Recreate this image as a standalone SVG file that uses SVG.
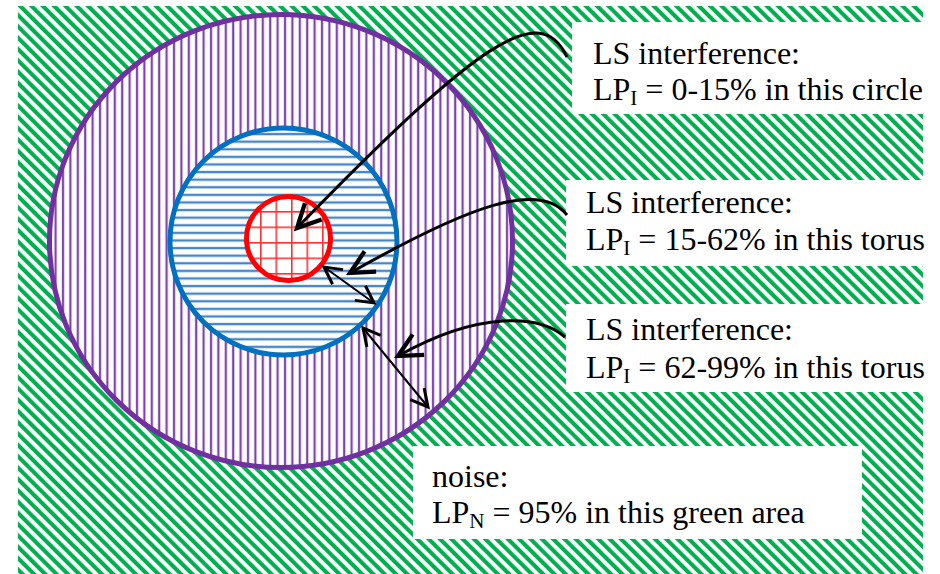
<svg xmlns="http://www.w3.org/2000/svg" width="940" height="574" viewBox="0 0 940 574">
  <style>
    .lbl { font-family: "Liberation Serif", "Times New Roman", serif; font-size: 32px; fill: #000; }
    .sub { font-size: 21px; }
    .box { fill: #fff; stroke: none; }
    .curve { fill: none; stroke: #000; stroke-width: 3; }
    .dbl { fill: none; stroke: #000; stroke-width: 2; }
  </style>
  <defs>
    <pattern id="pg" width="8" height="8" patternUnits="userSpaceOnUse" patternTransform="rotate(-45)">
      <rect width="8" height="8" fill="#fff"/>
      <rect width="4.1" height="8" fill="#00B050"/>
    </pattern>
    <pattern id="pp" width="7.4" height="10" patternUnits="userSpaceOnUse">
      <rect width="7.4" height="10" fill="#fff"/>
      <rect x="2.6" width="2.4" height="10" fill="#9a6cc4"/>
      <rect x="3.2" width="1.2" height="10" fill="#7030A0"/>
    </pattern>
    <pattern id="pb" width="10" height="7.6" patternUnits="userSpaceOnUse" y="1">
      <rect width="10" height="7.6" fill="#fff"/>
      <rect y="2.6" width="10" height="2.6" fill="#7fb0e0"/>
      <rect y="3.2" width="10" height="1.3" fill="#2E75B6"/>
    </pattern>
    <pattern id="pr" x="260" y="211" width="15.5" height="15.5" patternUnits="userSpaceOnUse">
      <rect width="15.5" height="15.5" fill="#fff"/>
      <rect width="1.6" height="15.5" fill="#ff3030"/>
      <rect width="15.5" height="1.6" fill="#ff3030"/>
    </pattern>
    <marker id="ah" markerUnits="userSpaceOnUse" markerWidth="34" markerHeight="34" viewBox="-28 -16 32 32" refX="0" refY="0" orient="auto-start-reverse">
      <path d="M-22,-11 L0,0 L-22,11" fill="none" stroke="#000" stroke-width="4" stroke-linejoin="miter"/>
    </marker>
    <marker id="ahs" markerUnits="userSpaceOnUse" markerWidth="28" markerHeight="28" viewBox="-24 -14 28 28" refX="0" refY="0" orient="auto-start-reverse">
      <path d="M-17,-9 L0,0 L-17,9" fill="none" stroke="#000" stroke-width="3" stroke-linejoin="miter"/>
    </marker>
  </defs>

  <rect width="940" height="574" fill="#fff"/>

  <g id="green-area">
    <rect x="18" y="6" width="905" height="568" fill="url(#pg)"/>
  </g>

  <g id="ring-purple">
    <ellipse cx="281" cy="241" rx="231.5" ry="226.5" fill="url(#pp)" stroke="#7030A0" stroke-width="5"/>
  </g>

  <g id="ring-blue">
    <circle cx="283.5" cy="241.5" r="113.5" fill="url(#pb)" stroke="#0070C0" stroke-width="5"/>
  </g>

  <g id="circle-red">
    <circle cx="288.5" cy="238.5" r="42" fill="url(#pr)" stroke="#FF0000" stroke-width="5"/>
  </g>

  <g id="label-circle">
    <rect class="box" x="572" y="22" width="351" height="92"/>
    <text class="lbl" x="593" y="64">LS interference:</text>
    <text class="lbl" x="593" y="100">LP<tspan class="sub" dy="5">I</tspan><tspan dy="-5"> = 0-15% in this circle</tspan></text>
  </g>

  <g id="label-torus-inner">
    <rect class="box" x="566" y="180" width="357" height="86"/>
    <text class="lbl" x="586" y="213">LS interference:</text>
    <text class="lbl" x="586" y="250">LP<tspan class="sub" dy="5">I</tspan><tspan dy="-5"> = 15-62% in this torus</tspan></text>
  </g>

  <g id="label-torus-outer">
    <rect class="box" x="566" y="304" width="357" height="88"/>
    <text class="lbl" x="586" y="340">LS interference:</text>
    <text class="lbl" x="586" y="378">LP<tspan class="sub" dy="5">I</tspan><tspan dy="-5"> = 62-99% in this torus</tspan></text>
  </g>

  <g id="label-noise">
    <rect class="box" x="413" y="446" width="449" height="93"/>
    <text class="lbl" x="432" y="487">noise:</text>
    <text class="lbl" x="432" y="523">LP<tspan class="sub" dy="5">N</tspan><tspan dy="-5"> = 95% in this green area</tspan></text>
  </g>

  <g id="connectors">
    <path class="curve" d="M567,57 C540,0 480,40 297,228" marker-end="url(#ah)"/>
    <path class="curve" d="M567,215 C540,180 470,205 350,273" marker-end="url(#ah)"/>
    <path class="curve" d="M565,337 C540,315 480,310 398,356" marker-end="url(#ah)"/>
    <line class="dbl" x1="324" y1="267" x2="374" y2="303" marker-start="url(#ahs)" marker-end="url(#ahs)"/>
    <line class="dbl" x1="363" y1="328" x2="428" y2="407" marker-start="url(#ahs)" marker-end="url(#ahs)"/>
  </g>
</svg>
